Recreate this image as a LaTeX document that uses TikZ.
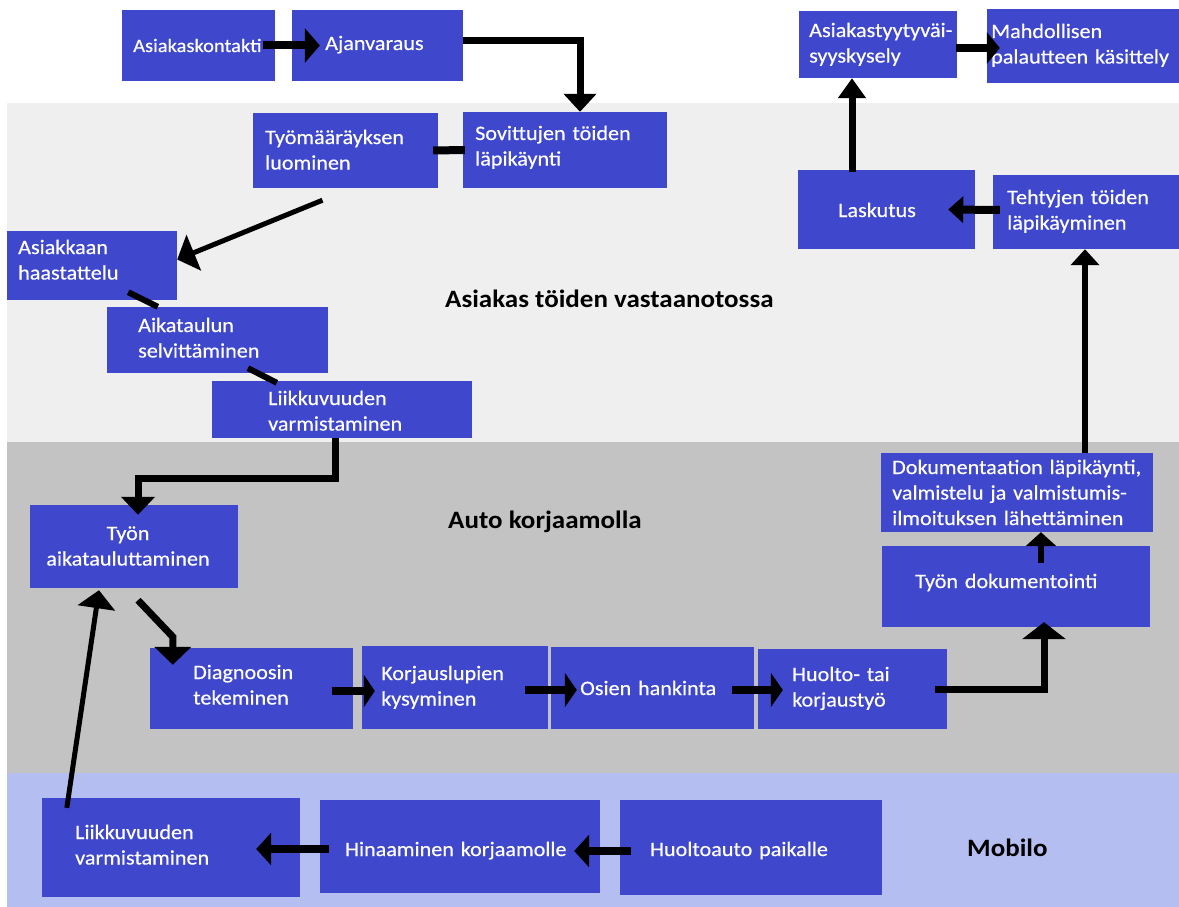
\documentclass[tikz,border=0pt]{standalone}
\usepackage{fontspec}
\setmainfont{Carlito}[FakeStretch=1.08]
\newfontfamily\boxfont{Carlito}[FakeStretch=1.08, FakeBold=0.4]
\usetikzlibrary{arrows.meta,fit}
\definecolor{boxblue}{RGB}{63,72,204}
\definecolor{bandlight}{RGB}{239,239,239}
\definecolor{bandmid}{RGB}{195,195,195}
\definecolor{bandblue}{RGB}{181,190,241}

\begin{document}
\begin{tikzpicture}[x=1pt,y=-1pt,
  box/.style={fill=boxblue, draw=none, inner sep=0pt},
  txt/.style={text=white, font=\boxfont\fontsize{20.5}{25.5}\selectfont, align=left,
    text width=320pt, inner sep=0pt, anchor=base west},
  lane/.style={font=\bfseries\fontsize{25}{29}\selectfont, inner sep=0pt, anchor=base west},
  arr/.style={line width=7pt, -{Triangle[width=32pt,length=14pt]}},
  link/.style={line width=6pt}]

\useasboundingbox (0,0) rectangle (1179,907);
% swim lanes
\fill[white] (0,0) rectangle (1179,907);
\fill[bandlight] (7,103) rectangle (1179,442);
\fill[bandmid] (7,442) rectangle (1179,773);
\fill[bandblue] (7,773) rectangle (1179,907);

\node[lane] (laneA) at (445,307) {Asiakas töiden vastaanotossa};
\node[lane] (laneB) at (448,528) {Auto korjaamolla};
\node[lane] (laneC) at (967,856) {Mobilo};

% process steps
\node[box, fit={(122,10) (275,81)}] (kont) {};
\node[box, fit={(292,10) (463,81)}] (ajan) {};
\node[box, fit={(463,112) (667,188)}] (sov) {};
\node[box, fit={(253,113) (438,188)}] (tyom) {};
\node[box, fit={(799,11) (957,78)}] (tyyt) {};
\node[box, fit={(987,9) (1179,83)}] (mahd) {};
\node[box, fit={(798,170) (975,249)}] (lask) {};
\node[box, fit={(993,175) (1179,249)}] (teht) {};
\node[box, fit={(7,231) (177,300)}] (haast) {};
\node[box, fit={(107,307) (328,373)}] (aikat) {};
\node[box, fit={(212,381) (472,438)}] (liikA) {};
\node[box, fit={(30,505) (238,588)}] (tyon) {};
\node[box, fit={(150,648) (353,729)}] (diag) {};
\node[box, fit={(362,646) (548,729)}] (korj) {};
\node[box, fit={(551,647) (754,729)}] (osien) {};
\node[box, fit={(758,649) (947,729)}] (huolto) {};
\node[box, fit={(882,546) (1150,627)}] (dok) {};
\node[box, fit={(881,453) (1153,532)}] (dokum) {};
\node[box, fit={(42,798) (300,897)}] (liikB) {};
\node[box, fit={(320,800) (600,893)}] (hina) {};
\node[box, fit={(620,800) (882,895)}] (auto) {};

% step labels
\node[txt, font=\boxfont\fontsize{19}{23}\selectfont] (kont-t) at (133,52) {Asiakaskontakti};
\node[txt] (ajan-t) at (325,50) {Ajanvaraus};
\node[txt] (sov-t) at (475,140) {Sovittujen töiden\\läpikäynti};
\node[txt] (tyom-t) at (265,144) {Työmääräyksen\\luominen};
\node[txt] (tyyt-t) at (809,37) {Asiakastyytyväi-\\syyskysely};
\node[txt] (mahd-t) at (991,38) {Mahdollisen\\palautteen käsittely};
\node[txt] (lask-t) at (838,217) {Laskutus};
\node[txt] (teht-t) at (1007,204) {Tehtyjen töiden\\läpikäyminen};
\node[txt] (haast-t) at (18,254) {Asiakkaan\\haastattelu};
\node[txt] (aikat-t) at (138,332) {Aikataulun\\selvittäminen};
\node[txt] (liikA-t) at (268,405) {Liikkuvuuden\\varmistaminen};
\node[txt, text width=200pt, align=center, anchor=base] (tyon-t) at (128,540) {Työn\\aikatauluttaminen};
\node[txt] (diag-t) at (193,679) {Diagnoosin\\tekeminen};
\node[txt] (korj-t) at (381,680) {Korjauslupien\\kysyminen};
\node[txt] (osien-t) at (580,695) {Osien hankinta};
\node[txt] (huolto-t) at (792,681) {Huolto- tai\\korjaustyö};
\node[txt] (dok-t) at (915,588) {Työn dokumentointi};
\node[txt] (dokum-t) at (892,474) {Dokumentaation läpikäynti,\\valmistelu ja valmistumis-\\ilmoituksen lähettäminen};
\node[txt] (liikB-t) at (75,839) {Liikkuvuuden\\varmistaminen};
\node[txt] (hina-t) at (345,856) {Hinaaminen korjaamolle};
\node[txt] (auto-t) at (650,856) {Huoltoauto paikalle};

% connectors
\draw[arr, line width=8pt, -{Triangle[width=34pt,length=15pt]}] ([xshift=-12pt]kont.east) -- ([xshift=28pt]ajan.west);
\draw[arr, -{Triangle[width=32pt,length=18pt]}] ([yshift=5pt]ajan.east) -| ([xshift=15pt]sov.north);
\draw[link, line width=8pt] ([xshift=-5pt]tyom.east) -- ([xshift=2pt]sov.west);
\draw[arr, line width=5pt, -{Triangle[width=38pt,length=18pt]}] ([xshift=-23pt,yshift=-12pt]tyom.south) -- ([yshift=6pt]haast.east);
\draw[link] ([xshift=-49pt,yshift=8pt]haast.south east) -- ([xshift=51pt]aikat.north west);
\draw[link] ([xshift=30.5pt,yshift=5pt]aikat.south) -- ([xshift=65pt,yshift=-2pt]liikA.north west);
\draw[arr, -{Triangle[width=33pt,length=18pt]}] ([xshift=-7pt]liikA.south) -- ++(0,40) -| ([xshift=4pt,yshift=-10pt]tyon.north);
\draw[arr, -{Triangle[width=36pt,length=18pt]}] ([xshift=4pt,yshift=-12pt]tyon.south) -- ([xshift=23pt,yshift=11pt]diag.north west) -- ([xshift=23pt,yshift=-17pt]diag.north west);
\draw[arr, line width=8pt, -{Triangle[width=32pt,length=11pt]}] ([xshift=-21pt,yshift=-2.5pt]diag.east) -- ([xshift=13pt,yshift=-3.5pt]korj.west);
\draw[arr, line width=8pt, -{Triangle[width=34pt,length=12pt]}] ([xshift=-23pt,yshift=-2.5pt]korj.east) -- ([xshift=26pt,yshift=-2pt]osien.west);
\draw[arr, line width=8pt, -{Triangle[width=34pt,length=12pt]}] ([xshift=-22pt,yshift=-2pt]osien.east) -- ([xshift=25pt,yshift=-1pt]huolto.west);
\draw[arr, -{Triangle[width=43pt,length=17pt]}] ([xshift=-12pt]huolto.east) -| ([xshift=28pt,yshift=5pt]dok.south);
\draw[arr, line width=6pt, -{Triangle[width=30pt,length=14pt]}] ([xshift=25pt,yshift=-17pt]dok.north) -- ([xshift=24pt]dokum.south);
\draw[arr, line width=6pt, -{Triangle[width=28pt,length=16pt]}] ([xshift=68pt]dokum.north) -- ([xshift=-1pt]teht.south);
\draw[arr, line width=8pt, -{Triangle[width=26pt,length=15pt]}] ([xshift=7pt,yshift=2pt]teht.west) -- ([xshift=-27pt]lask.east);
\draw[arr, -{Triangle[width=27pt,length=20pt]}] ([xshift=-34.5pt,yshift=-2pt]lask.north) -- ([xshift=-26pt]tyyt.south);
\draw[arr, line width=8pt, -{Triangle[width=31pt,length=13pt]}] ([xshift=-1pt,yshift=-3.5pt]tyyt.east) -- ([xshift=13pt,yshift=-2pt]mahd.west);
\draw[arr, line width=5pt, -{Triangle[width=37pt,length=18pt]}] ([xshift=25pt,yshift=-10pt]liikB.north west) -- ([xshift=-35pt,yshift=-2pt]tyon.south);
\draw[arr, line width=8pt, -{Triangle[width=32pt,length=15pt]}] ([xshift=11pt,yshift=-3.5pt]auto.west) -- ([xshift=-26pt,yshift=-4.5pt]hina.east);
\draw[arr, line width=8pt, -{Triangle[width=32pt,length=15pt]}] ([xshift=9pt,yshift=-2.5pt]hina.west) -- ([xshift=-44pt,yshift=-1.5pt]liikB.east);
\end{tikzpicture}
\end{document}
